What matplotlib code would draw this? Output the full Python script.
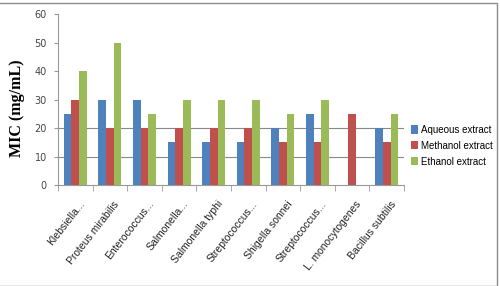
import numpy as np
import matplotlib
matplotlib.use("Agg")
import matplotlib.pyplot as plt
from matplotlib.patches import Rectangle

# bacteria on the x axis
categories = ["Klebsiella...", "Proteus mirabilis", "Enterococcus...", "Salmonella...",
              "Salmonella typhi", "Streptococcus...", "Shigella sonnei", "Streptococcus...",
              "L. monocytogenes", "Bacillus subtilis"]
aqueous = [25, 30, 30, 15, 15, 15, 20, 25, 0, 20]
methanol = [30, 20, 20, 20, 20, 20, 15, 15, 25, 15]
ethanol = [40, 50, 25, 30, 30, 30, 25, 30, 0, 25]
series_names = ["Aqueous extract", "Methanol extract", "Ethanol extract"]
colors = ["#4F81BD", "#C0504D", "#9BBB59"]
yticks = [0, 10, 20, 30, 40, 50, 60]

fig = plt.figure(figsize=(5, 2.86), dpi=100)
ax = fig.add_axes([0.116, 0.353, 0.692, 0.598])

# outer frame like the pasted excel chart
fig.patches.append(Rectangle((-0.01, 0.0), 1.004, 0.99, transform=fig.transFigure,
                             fill=False, edgecolor="#8c8c8c", linewidth=1.0))

x = np.arange(len(categories))
w = 0.22
for i, vals in enumerate([aqueous, methanol, ethanol]):
    ax.bar(x + (i - 1) * w, vals, w, color=colors[i], label=series_names[i], zorder=3)

# only the lower gridlines show in the picture
for g in [10, 20]:
    ax.axhline(g, color="#8a8a8a", linewidth=0.8, zorder=1)

ax.set_xlim(-0.5, len(categories) - 0.5)
ax.set_ylim(0, 60)
ax.set_yticks(yticks)
ax.set_yticklabels([str(t) for t in yticks], fontsize=7, color="#444444")
ax.tick_params(axis="y", length=3, color="#999999", pad=5)

ax.set_xticks(x + 0.1)
ax.set_xticklabels(categories, rotation=52, ha="right", rotation_mode="anchor",
                   fontsize=7.5, family="Liberation Sans", color="#222222")
ax.tick_params(axis="x", length=0, pad=10)
# tick marks sit between the groups
ax.set_xticks(np.arange(len(categories) + 1) - 0.5, minor=True)
ax.tick_params(axis="x", which="minor", length=4, color="#999999")

for s in ["top", "right"]:
    ax.spines[s].set_visible(False)
ax.spines["left"].set_color("#999999")
ax.spines["bottom"].set_color("#999999")

ax.set_ylabel("MIC (mg/mL)", fontsize=11.5, fontweight="bold", family="Liberation Serif")
ax.yaxis.set_label_coords(-0.095, 0.45)

ax.legend(loc="center left", bbox_to_anchor=(1.0, 0.23), frameon=False,
          handlelength=0.7, handleheight=0.9, handletextpad=0.3, labelspacing=0.6,
          borderaxespad=0.3, prop={"family": "Liberation Sans", "size": 7})

fig.savefig("out.png", dpi=100)
